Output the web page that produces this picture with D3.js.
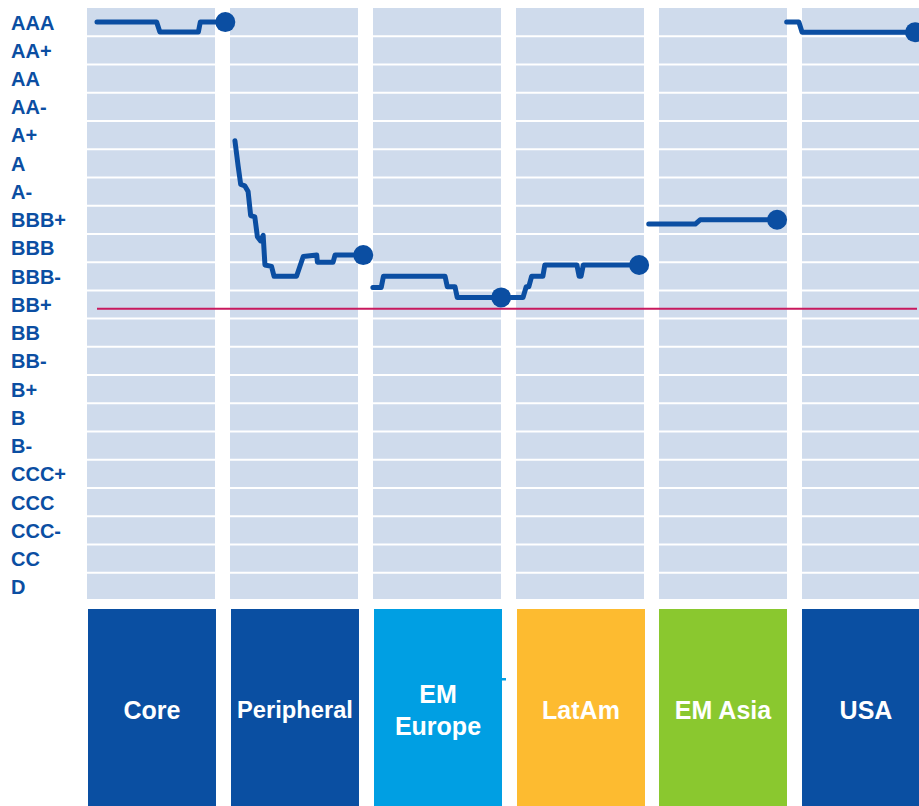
<!DOCTYPE html>
<meta charset="UTF-8">
<style>
body { margin: 0; background: #fff; }
.rating { font: bold 20px "Liberation Sans", Arial, sans-serif; fill: #0B4EA2; }
.box text { font-weight: bold; font-family: "Liberation Sans", Arial, sans-serif; fill: #fff; }
.line { fill: none; stroke: #0B4EA2; stroke-width: 5px; stroke-linecap: round; stroke-linejoin: round; }
</style>
<body>
<script src="https://cdn.jsdelivr.net/npm/d3@7"></script>
<script>

// rating scale, top to bottom
var ratings = ["AAA","AA+","AA","AA-","A+","A","A-","BBB+","BBB","BBB-","BB+",
               "BB","BB-","B+","B","B-","CCC+","CCC","CCC-","CC","D"];

var regions = ["Core", "Peripheral", "EM Europe", "LatAm", "EM Asia", "USA"];
var regionColors = ["#0A4FA2", "#0A4FA2", "#009FE3", "#FDBB30", "#8AC82F", "#0A4FA2"];

// average rating (index into ratings) over time, [time, rating] per region, time 0..40
var core       = [[0,0],[18.6,0],[19.6,0.35],[31.6,0.35],[32.2,0],[40,0]];
var peripheral = [[0,4.2],[1,5.1],[1.8,5.75],[3.1,5.8],[4.1,6.0],[4.9,6.85],[6.2,6.9],[7,7.6],
                  [8,7.75],[8.8,7.55],[9.35,8.6],[11.4,8.65],[12.2,9.0],[19.2,9.0],[21.3,8.3],
                  [25.5,8.25],[25.7,8.5],[30.6,8.5],[31.2,8.25],[40,8.25]];
var emEurope   = [[0,9.4],[2.6,9.4],[3.3,9.0],[22.5,9.0],[23.2,9.37],[25.6,9.37],[26.3,9.75],[40,9.75]];
var latAm      = [[0,9.75],[3.8,9.75],[4.8,9.37],[5.6,9.37],[6.5,9.0],[10,9.0],[10.6,8.6],
                  [20.6,8.6],[21.3,9.0],[21.9,9.0],[22.6,8.6],[40,8.6]];
var emAsia     = [[0,7.15],[14.5,7.15],[16,7.0],[40,7.0]];
var usa        = [[0,0],[3.8,0],[4.8,0.36],[40,0.36]];

var series = [core, peripheral, emEurope, latAm, emAsia, usa];

// investment grade threshold
var threshold = 10.15;

var width = 919, height = 806;
var segLen = 40, segGap = 3;

var svg = d3.select("body").append("svg")
    .attr("width", width)
    .attr("height", height);

var band = d3.scaleBand()
    .domain(regions)
    .range([87, 930])
    .paddingInner(0.105)
    .paddingOuter(0);

var y = d3.scaleLinear()
    .domain([-0.5, ratings.length - 0.5])
    .range([8, 601]);

var x = d3.scaleLinear()
    .domain([0, regions.length * (segLen + segGap) - segGap])
    .range([97, 915]);

var panelBottom = 599;

// panels
svg.selectAll("rect.panel")
    .data(regions)
  .enter().append("rect")
    .attr("class", "panel")
    .attr("x", function(d) { return band(d); })
    .attr("y", y(-0.5))
    .attr("width", band.bandwidth())
    .attr("height", panelBottom - y(-0.5))
    .attr("fill", "#CFDBEC");

// white gridlines between rating rows
svg.selectAll("line.grid")
    .data(d3.range(ratings.length - 1))
  .enter().append("line")
    .attr("class", "grid")
    .attr("x1", 80).attr("x2", width)
    .attr("y1", function(d) { return y(d + 0.5); })
    .attr("y2", function(d) { return y(d + 0.5); })
    .attr("stroke", "#fff")
    .attr("stroke-width", 2);

// rating labels
svg.selectAll("text.rating")
    .data(ratings)
  .enter().append("text")
    .attr("class", "rating")
    .attr("x", 11)
    .attr("y", function(d, i) { return y(i); })
    .attr("dy", "0.37em")
    .text(function(d) { return d; });

// threshold line
svg.append("line")
    .attr("x1", 97).attr("x2", 917)
    .attr("y1", y(threshold)).attr("y2", y(threshold))
    .attr("stroke", "#C8195E")
    .attr("stroke-width", 2);

// rating lines
var line = d3.line()
    .x(function(d) { return x(d[0] + d.seg * (segLen + segGap)); })
    .y(function(d) { return y(d[1]); });

series.forEach(function(s, i) {
  var pts = s.map(function(p) { var q = [p[0], p[1]]; q.seg = i; return q; });
  svg.append("path")
      .attr("class", "line")
      .attr("d", line(pts));
  var last = pts[pts.length - 1];
  svg.append("circle")
      .attr("cx", x(last[0] + i * (segLen + segGap)))
      .attr("cy", y(last[1]))
      .attr("r", 10)
      .attr("fill", "#0B4EA2");
});

// region boxes
var boxTop = 609;
var box = svg.selectAll("g.box")
    .data(regions)
  .enter().append("g")
    .attr("class", "box")
    .attr("transform", function(d, i) { return "translate(" + (band(d) + (i < 4 ? 1 : 0)) + "," + boxTop + ")"; });

box.append("rect")
    .attr("width", band.bandwidth())
    .attr("height", height - boxTop)
    .attr("fill", function(d, i) { return regionColors[i]; });

box.append("text")
    .attr("text-anchor", "middle")
    .attr("x", band.bandwidth() / 2)
    .style("font-size", "25px")
    .each(function(d) {
      var t = d3.select(this);
      var words = d.split(" ");
      var lines = (d === "EM Europe") ? words : [d];
      lines.forEach(function(w, j) {
        t.append("tspan")
          .attr("x", band.bandwidth() / 2)
          .attr("y", 101 + (j - (lines.length - 1) / 2) * 32)
          .attr("dy", "0.35em")
          .text(w);
      });
      // shrink to fit the box
      var w = this.getBBox().width;
      if (w > band.bandwidth() - 10) {
        t.style("font-size", (25 * (band.bandwidth() - 12) / w) + "px");
      }
    });

// stray tick next to EM Europe box
svg.append("rect")
    .attr("x", band("EM Europe") + band.bandwidth() + 1)
    .attr("y", 678)
    .attr("width", 4)
    .attr("height", 2.5)
    .attr("fill", "#009FE3");

</script>
</body>
